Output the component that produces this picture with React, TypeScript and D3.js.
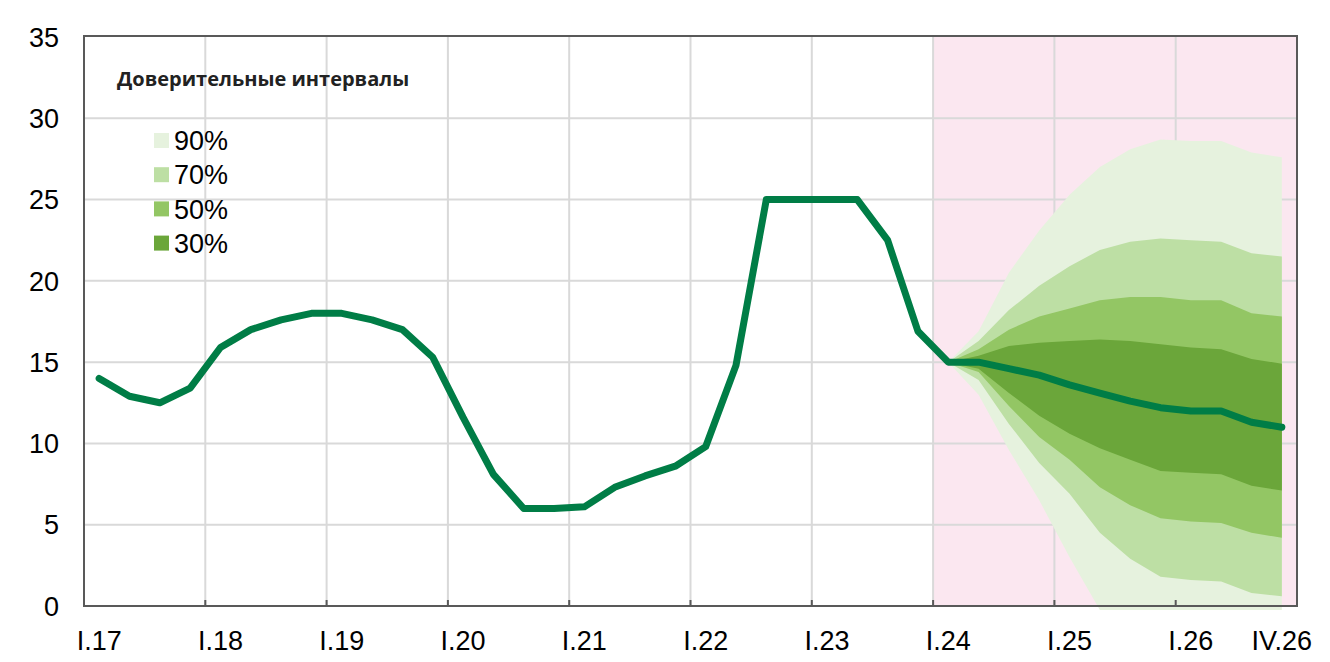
import React from 'react';
import * as d3 from 'd3';

const quarters = [
  'I.17','II.17','III.17','IV.17','I.18','II.18','III.18','IV.18',
  'I.19','II.19','III.19','IV.19','I.20','II.20','III.20','IV.20',
  'I.21','II.21','III.21','IV.21','I.22','II.22','III.22','IV.22',
  'I.23','II.23','III.23','IV.23','I.24','II.24','III.24','IV.24',
  'I.25','II.25','III.25','IV.25','I.26','II.26','III.26','IV.26',
];

const rate = [
  14.0, 12.9, 12.5, 13.4, 15.9, 17.0, 17.6, 18.0,
  18.0, 17.6, 17.0, 15.3, 11.6, 8.1, 6.0, 6.0,
  6.1, 7.3, 8.0, 8.6, 9.8, 14.8, 25.0, 25.0,
  25.0, 25.0, 22.5, 16.9, 15.0, 15.0, 14.6, 14.2,
  13.6, 13.1, 12.6, 12.2, 12.0, 12.0, 11.3, 11.0,
];

const forecastQuarters = quarters.slice(28);

const fan90Upper = [15, 16.9, 20.5, 23.1, 25.3, 27.0, 28.1, 28.7, 28.6, 28.6, 27.9, 27.6];
const fan70Upper = [15, 16.3, 18.2, 19.7, 20.9, 21.9, 22.4, 22.6, 22.5, 22.4, 21.7, 21.5];
const fan50Upper = [15, 15.8, 17.0, 17.8, 18.3, 18.8, 19.0, 19.0, 18.8, 18.8, 18.0, 17.8];
const fan30Upper = [15, 15.4, 16.0, 16.2, 16.3, 16.4, 16.3, 16.1, 15.9, 15.8, 15.2, 14.9];
const fan30Lower = [15, 14.6, 13.1, 11.7, 10.6, 9.7, 9.0, 8.3, 8.2, 8.1, 7.4, 7.1];
const fan50Lower = [15, 14.4, 12.3, 10.4, 9.0, 7.3, 6.2, 5.4, 5.2, 5.1, 4.5, 4.2];
const fan70Lower = [15, 13.9, 11.2, 8.8, 6.9, 4.5, 2.9, 1.8, 1.6, 1.5, 0.8, 0.6];
const fan90Lower = [15, 13.0, 9.6, 6.5, 3.0, -0.25, -0.25, -0.25, -0.25, -0.25, -0.25, -0.25];

const yTicks = [0, 5, 10, 15, 20, 25, 30, 35];
const xTickLabels = ['I.17','I.18','I.19','I.20','I.21','I.22','I.23','I.24','I.25','I.26','IV.26'];
const gridQuarters = ['I.18','I.19','I.20','I.21','I.22','I.23','I.24','I.25','I.26'];
const forecastStart = 'I.24';

const legendTitle = 'Доверительные интервалы';
const legendLabels = ['90%', '70%', '50%', '30%'];

const fanColors = ['#e6f2de', '#bddfa4', '#93c664', '#6ba63a'];
const lineColor = '#007d46';
const pink = '#fbe7f0';
const gridColor = '#d9d9d9';
const frameColor = '#595959';

const W = 1330, H = 662;
const left = 84, right = 1297, top = 37, bottom = 606;

export default function App() {
  const x = d3.scaleBand<string>().domain(quarters).range([left, right]).padding(0);
  const y = d3.scaleLinear().domain([0, 35]).range([bottom, top]);
  const cx = (q: string) => (x(q) as number) + x.bandwidth() / 2;

  const line = d3.line<number>()
    .x((_, i) => cx(quarters[i]))
    .y((d) => y(d));

  const bands = [
    [fan90Lower, fan90Upper],
    [fan70Lower, fan70Upper],
    [fan50Lower, fan50Upper],
    [fan30Lower, fan30Upper],
  ];

  const area = (lo: number[], hi: number[]) =>
    d3.area<number>()
      .x((_, i) => cx(forecastQuarters[i]))
      .y0((_, i) => y(lo[i]))
      .y1((_, i) => y(hi[i]))(lo) as string;

  const fStart = x(forecastStart) as number;

  return (
    <svg width={W} height={H} style={{ position: 'absolute', left: 0, top: 0, background: '#fff' }}
      fontFamily="Liberation Sans, Arial, sans-serif">
      <rect x={fStart} y={top - 1} width={right - fStart} height={bottom - top + 1} fill={pink} />
      {yTicks.filter((t) => t > 0 && t < 35).map((t) => (
        <line key={'h' + t} x1={left} x2={right} y1={y(t)} y2={y(t)} stroke={gridColor} strokeWidth={2} />
      ))}
      {gridQuarters.map((q) => (
        <line key={'v' + q} x1={x(q)} x2={x(q)} y1={top} y2={bottom} stroke={gridColor} strokeWidth={2} />
      ))}
      {bands.map(([lo, hi], i) => (
        <path key={'b' + i} d={area(lo, hi)} fill={fanColors[i]} />
      ))}
      <path d={line(rate) as string} fill="none" stroke={lineColor} strokeWidth={7}
        strokeLinejoin="round" strokeLinecap="round" />
      <rect x={left} y={top - 1} width={right - left} height={bottom - top + 1} fill="none"
        stroke={frameColor} strokeWidth={2} />
      {gridQuarters.map((q) => (
        <line key={'t' + q} x1={x(q)} x2={x(q)} y1={bottom - 6} y2={bottom} stroke={frameColor} strokeWidth={2} />
      ))}
      {yTicks.map((t) => (
        <text key={'yl' + t} x={59} y={y(t)} dy="0.36em" textAnchor="end" fontSize={27} fill="#000">{t}</text>
      ))}
      {xTickLabels.map((q) => (
        <text key={'xl' + q} x={cx(q)} y={650} textAnchor="middle" fontSize={27} fill="#000">{q}</text>
      ))}
      <text x={117} y={86} fontFamily="Open Sans, sans-serif" fontWeight={700} fontSize={20} fill="#222">{legendTitle}</text>
      {legendLabels.map((l, i) => (
        <g key={'lg' + l} transform={`translate(154, ${140.5 + i * 34.2})`}>
          <rect x={0} y={-7.5} width={15} height={15} fill={fanColors[i]} />
          <text x={20} y={0} dy="0.36em" fontSize={27} fill="#000">{l}</text>
        </g>
      ))}
    </svg>
  );
}
